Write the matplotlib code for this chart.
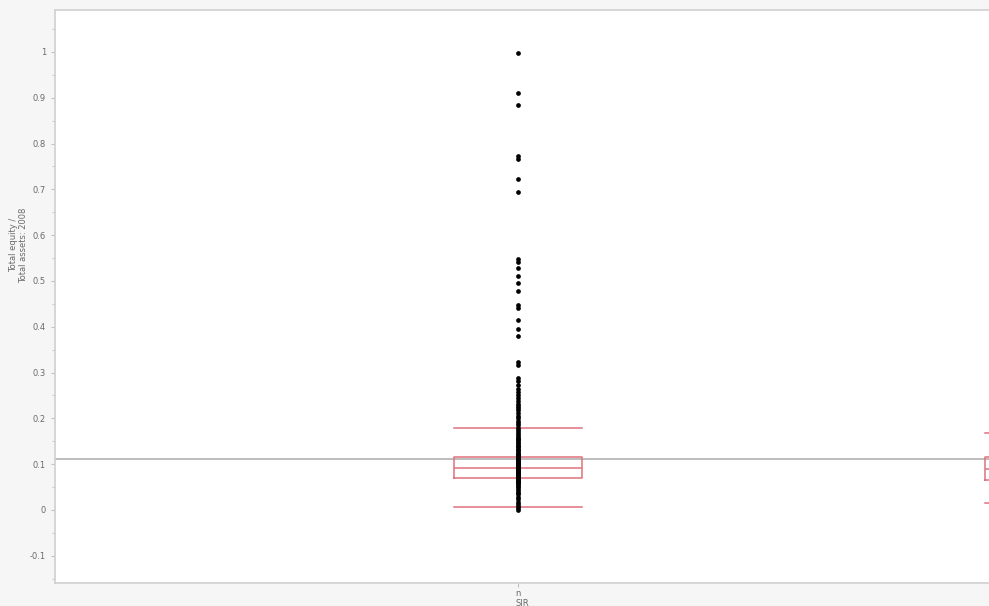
import matplotlib.pyplot as plt
from matplotlib.ticker import MultipleLocator, FuncFormatter

# Data
groups = ["n", ""]
group_pos = [0, 1]

# individual points of group "n" (Total equity / Total assets)
outliers_n = [
    0.998, 0.910, 0.884, 0.773, 0.766, 0.723, 0.695,
    0.547, 0.542, 0.528, 0.511, 0.495, 0.478, 0.448, 0.440,
    0.415, 0.395, 0.380, 0.324, 0.317, 0.289, 0.282, 0.273,
    0.265, 0.258, 0.252, 0.245, 0.238, 0.232, 0.228, 0.222,
    0.218, 0.212, 0.205, 0.200, 0.195, 0.190, 0.185,
]
inner_n = [
    0.000, 0.004, 0.008, 0.013, 0.018, 0.024, 0.029, 0.034, 0.038, 0.042,
    0.046, 0.050, 0.053, 0.056, 0.059, 0.061, 0.063, 0.065, 0.067, 0.069,
    0.071, 0.072, 0.073, 0.075, 0.076, 0.077, 0.078, 0.079, 0.080, 0.081,
    0.082, 0.083, 0.084, 0.085, 0.086, 0.087, 0.088, 0.089, 0.090, 0.091,
    0.092, 0.093, 0.094, 0.095, 0.096, 0.097, 0.098, 0.099, 0.100, 0.101,
    0.102, 0.104, 0.105, 0.106, 0.108, 0.109, 0.110, 0.112, 0.113, 0.115,
    0.117, 0.119, 0.121, 0.123, 0.125, 0.128, 0.131, 0.134, 0.137, 0.140,
    0.143, 0.146, 0.149, 0.152, 0.155, 0.158, 0.162, 0.166, 0.170, 0.175,
    0.178,
]

# box statistics per group
q1 = [0.0705, 0.066]
med = [0.091, 0.090]
q3 = [0.115, 0.116]
whis_lo = [0.007, 0.015]
whis_hi = [0.178, 0.168]

grand_mean = 0.1115

box_color = "#e0727c"
grid_gray = "#b8b8b8"
text_gray = "#6a6a6a"

fig = plt.figure(figsize=(9.89, 6.06), dpi=100, facecolor="#f6f6f6")
ax = fig.add_axes([55 / 989, 23 / 606, 934 / 989, 573 / 606])
ax.set_facecolor("white")

# grand mean line
ax.axhline(grand_mean, color=grid_gray, lw=1.3, zorder=1)

stats = []
for i in range(len(groups)):
    stats.append({
        "med": med[i], "q1": q1[i], "q3": q3[i],
        "whislo": whis_lo[i], "whishi": whis_hi[i], "fliers": [],
    })

line_kw = dict(color=box_color, lw=1.1)
ax.bxp(stats, positions=group_pos, widths=0.24, capwidths=0.24,
       showfliers=False, boxprops=line_kw, medianprops=line_kw,
       whiskerprops=line_kw, capprops=line_kw, manage_ticks=False,
       zorder=2)

points = inner_n + outliers_n
ax.plot([group_pos[0]] * len(points), points, "o", color="black",
        markersize=3.4, markeredgewidth=0, zorder=3)

ax.set_xlim(-0.872, 0.887)
ax.set_ylim(-0.1594, 1.0917)

ax.set_xticks([group_pos[0]])
ax.set_xticklabels([groups[0]])
ax.yaxis.set_major_locator(MultipleLocator(0.1))
ax.yaxis.set_minor_locator(MultipleLocator(0.05))
ax.yaxis.set_major_formatter(FuncFormatter(lambda v, p: f"{v:.1f}".rstrip("0").rstrip(".") if abs(v) > 1e-9 else "0"))

ax.tick_params(axis="both", which="both", colors="#c0c0c0", labelcolor=text_gray,
               labelsize=6, length=3)
ax.tick_params(axis="y", which="minor", length=2)
ax.tick_params(axis="x", pad=1)

for side in ["left", "bottom", "top"]:
    ax.spines[side].set_color("#d0d0d0")
    ax.spines[side].set_linewidth(1.2)
ax.spines["right"].set_visible(False)

ax.set_ylabel("Total equity /\nTotal assets: 2008", fontsize=6, color=text_gray,
              linespacing=1.1, multialignment="center")
ax.yaxis.set_label_coords(-0.029, 0.59)
ax.set_xlabel("SIR", fontsize=6, color=text_gray, labelpad=1)

fig.savefig("out.png", dpi=100, facecolor=fig.get_facecolor())
